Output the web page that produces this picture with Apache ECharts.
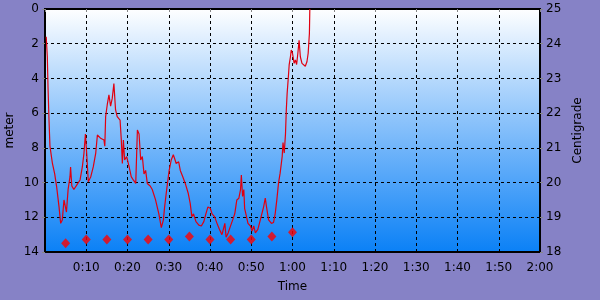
<!DOCTYPE html>
<html><head><meta charset="utf-8">
<script src="https://cdn.jsdelivr.net/npm/echarts@6/dist/echarts.min.js"></script>
<style>html,body{margin:0;padding:0;background:#8682c6}#c{width:600px;height:300px}</style>
</head><body><div id="c"></div>
<script>
// depth trace: [minutes, meters]
var depthPoints = [[0.3,1.6],[0.56,2.75],[0.73,4.5],[0.97,6.4],[1.2,7.9],[1.8,8.9],[2.35,9.5],[2.8,10.2],[3.4,11.4],[3.8,12.35],[4.2,12.15],[4.6,11.0],[5.2,11.7],[5.6,10.4],[6.06,9.66],[6.2,9.1],[6.5,10.2],[7.0,10.4],[7.8,10.1],[8.5,9.85],[9.05,9.1],[9.45,8.3],[9.8,7.2],[10.1,8.3],[10.5,9.95],[11.1,9.66],[11.7,9.1],[12.3,8.3],[12.7,7.26],[13.1,7.35],[13.5,7.45],[14.3,7.55],[14.5,7.9],[14.7,6.2],[15.1,5.5],[15.5,4.95],[15.9,5.6],[16.3,5.15],[16.7,4.3],[17.1,5.8],[17.5,6.2],[18.2,6.4],[18.5,7.55],[18.75,8.9],[19.0,7.55],[19.3,8.7],[19.8,8.5],[20.4,9.1],[20.9,9.66],[21.4,9.85],[22.0,10.05],[22.4,6.97],[22.8,7.2],[23.2,8.7],[23.6,8.5],[24.0,9.5],[24.4,9.3],[24.8,10.05],[25.5,10.2],[26.0,10.4],[26.8,11.0],[27.2,11.4],[27.6,11.8],[28.2,12.6],[28.7,12.15],[29.0,11.4],[29.5,10.4],[30.1,9.3],[30.6,8.7],[31.1,8.4],[31.4,8.6],[31.8,8.9],[32.4,8.8],[32.8,9.3],[33.4,9.66],[34.0,10.05],[34.7,10.6],[35.2,11.2],[35.6,11.96],[36.0,11.8],[36.6,12.25],[37.3,12.45],[37.9,12.5],[38.5,12.25],[39.0,11.8],[39.5,11.4],[40.1,11.5],[40.5,11.8],[41.1,11.96],[41.7,12.35],[42.3,12.7],[42.9,13.0],[43.3,13.1],[43.6,12.35],[43.9,13.15],[44.4,12.9],[44.9,12.55],[45.5,12.15],[46.0,11.8],[46.5,11.0],[47.0,10.9],[47.4,10.4],[47.6,9.56],[47.9,10.8],[48.2,10.4],[48.4,11.5],[48.7,11.8],[49.2,12.35],[49.8,12.5],[50.2,12.8],[50.6,12.5],[51.0,12.9],[51.6,12.7],[52.2,12.15],[52.6,12.05],[53.0,11.4],[53.4,10.9],[53.7,11.4],[54.2,12.15],[54.9,12.35],[55.4,12.3],[55.8,11.8],[56.2,11.0],[56.6,10.05],[57.0,9.46],[57.5,8.5],[57.7,7.7],[58.0,8.3],[58.3,7.2],[58.5,5.8],[58.7,4.86],[59.0,3.9],[59.2,3.2],[59.5,2.75],[59.7,2.36],[60.0,2.55],[60.4,3.13],[60.7,2.94],[61.0,3.2],[61.3,2.55],[61.6,1.8],[61.9,2.75],[62.3,3.13],[62.7,3.04],[63.1,3.3],[63.5,3.04],[63.8,2.55],[64.1,1.4],[64.2,0]];
// temperature samples
var tempTimes = [5,10,15,20,25,30,35,40,45,50,55,60];
var tempValues = [18.25,18.36,18.36,18.36,18.36,18.36,18.45,18.36,18.36,18.36,18.45,18.57];
// axis ticks
var depthTicks = [0,2,4,6,8,10,12,14];
var tempTicks = [18,19,20,21,22,23,24,25];
var timeTicks = [0,10,20,30,40,50,60,70,80,90,100,110,120];

var font = 'DejaVu Sans';
function fmtTime(v){ if(v===0) return ''; var h=Math.floor(v/60), m=v%60; return h+':'+(m<10?'0':'')+m; }
var tempData = tempTimes.map(function(t,i){return [t,tempValues[i]];});

var chart = echarts.init(document.getElementById('c'), null, {renderer:'canvas'});
chart.setOption({
  backgroundColor:'#8682c6',
  animation:false,
  textStyle:{fontFamily:font},
  grid:{left:45,right:60,top:9,bottom:48,show:true,borderColor:'#000',borderWidth:2,
    containLabel:false,outerBoundsMode:'none',
    backgroundColor:new echarts.graphic.LinearGradient(0,0,0,1,[{offset:0,color:'#ffffff'},{offset:0.45,color:'#8ec4fb'},{offset:1,color:'#0a80f6'}])},
  xAxis:{type:'value',min:timeTicks[0],max:timeTicks[timeTicks.length-1],interval:10,
    name:'Time',nameLocation:'middle',nameGap:29,nameTextStyle:{fontFamily:font,fontSize:12,color:'#000'},
    axisLine:{show:false},axisTick:{show:true,length:3,lineStyle:{color:'#888'}},
    axisLabel:{fontFamily:font,fontSize:12,color:'#000',margin:10,formatter:fmtTime},
    splitLine:{show:true,lineStyle:{color:'#000',type:[3,3],width:1}}},
  yAxis:[
    {type:'value',inverse:true,min:depthTicks[0],max:depthTicks[depthTicks.length-1],interval:2,
     name:'meter',nameLocation:'middle',nameGap:29,nameRotate:90,nameMoveOverlap:false,nameTextStyle:{fontFamily:font,fontSize:12,color:'#000'},
     axisLine:{show:false},axisTick:{show:true,length:3,lineStyle:{color:'#888'}},
     axisLabel:{fontFamily:font,fontSize:12,color:'#000',margin:6},
     splitLine:{show:true,lineStyle:{color:'#000',type:[3,3],width:1}}},
    {type:'value',min:tempTicks[0],max:tempTicks[tempTicks.length-1],interval:1,position:'right',
     name:'Centigrade',nameLocation:'middle',nameGap:30,nameRotate:90,nameTextStyle:{fontFamily:font,fontSize:12,color:'#000'},
     axisLine:{show:false},axisTick:{show:true,length:3,lineStyle:{color:'#888'}},
     axisLabel:{fontFamily:font,fontSize:12,color:'#000',margin:6},
     splitLine:{show:false}}
  ],
  series:[
    {type:'line',data:depthPoints,yAxisIndex:0,symbol:'none',lineStyle:{color:'#e00010',width:1.2},z:3},
    {type:'scatter',data:tempData,yAxisIndex:1,symbol:'diamond',symbolSize:[9,10],itemStyle:{color:'#ff0000'},z:4}
  ]
});
</script></body></html>
